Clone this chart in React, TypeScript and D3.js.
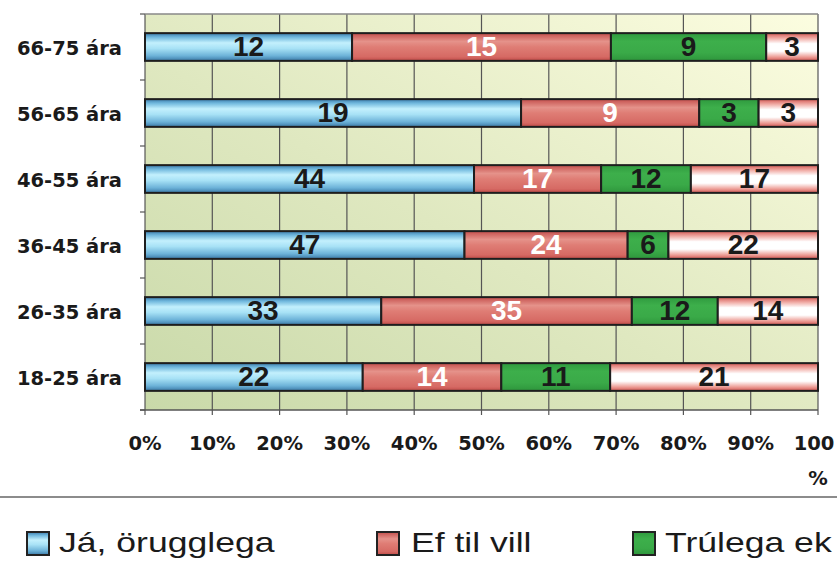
import React from "react";
import * as d3 from "d3";

const categories = ["66-75 ára", "56-65 ára", "46-55 ára", "36-45 ára", "26-35 ára", "18-25 ára"];
const seriesNames = ["Já, örugglega", "Ef til vill", "Trúlega ek", "Örugglega ekki"];
const jaValues = [12, 19, 44, 47, 33, 22];
const efValues = [15, 9, 17, 24, 35, 14];
const trulegaValues = [9, 3, 12, 6, 12, 11];
const ekkiValues = [3, 3, 17, 22, 14, 21];
const xTicks = [0, 0.1, 0.2, 0.3, 0.4, 0.5, 0.6, 0.7, 0.8, 0.9, 1];

const W = 837, H = 585;
const plot = { left: 145, right: 818, top: 14, bottom: 410 };

const gradIds = ["gBlue", "gRed", "gGreen", "gWhite"];
const labelColors = ["#1a1a1a", "#ffffff", "#1a1a1a", "#1a1a1a"];

export default function App() {
  const x = d3.scaleLinear().domain([0, 1]).range([plot.left, plot.right]);
  const y = d3.scaleBand().domain(categories).range([plot.top, plot.bottom]).paddingInner(0.58).paddingOuter(0.29);
  const rows = categories.map((c, i) => ({
    cat: c,
    vals: [jaValues[i], efValues[i], trulegaValues[i], ekkiValues[i]],
  }));
  const bw = y.bandwidth();
  const stepY = (plot.bottom - plot.top) / categories.length;

  const legend = [
    { name: seriesNames[0], g: "gBlue", mx: 27, tx: 59 },
    { name: seriesNames[1], g: "gRed", mx: 377, tx: 411 },
    { name: seriesNames[2], g: "gGreen", mx: 633, tx: 665 },
  ];

  return (
    <svg width={W} height={H} style={{ position: "absolute", left: 0, top: 0, background: "#fff" }}>
      <defs>
        <linearGradient id="bg" x1="0" y1="1" x2="1" y2="0">
          <stop offset="0" stopColor="#c9d9a9" />
          <stop offset="0.45" stopColor="#dfe8c0" />
          <stop offset="1" stopColor="#fcfde0" />
        </linearGradient>
        <linearGradient id="gBlue" x1="0" y1="0" x2="0" y2="1">
          <stop offset="0" stopColor="#3b7cac" />
          <stop offset="0.15" stopColor="#72b9de" />
          <stop offset="0.35" stopColor="#c3f0fd" />
          <stop offset="0.55" stopColor="#a8e2f6" />
          <stop offset="0.82" stopColor="#6cb2d8" />
          <stop offset="1" stopColor="#3a78a6" />
        </linearGradient>
        <linearGradient id="gRed" x1="0" y1="0" x2="0" y2="1">
          <stop offset="0" stopColor="#c44f4c" />
          <stop offset="0.3" stopColor="#e5928a" />
          <stop offset="0.5" stopColor="#df7d75" />
          <stop offset="0.85" stopColor="#d66a64" />
          <stop offset="1" stopColor="#c04b48" />
        </linearGradient>
        <linearGradient id="gGreen" x1="0" y1="0" x2="0" y2="1">
          <stop offset="0" stopColor="#2f9a3e" />
          <stop offset="0.3" stopColor="#3daf4b" />
          <stop offset="0.7" stopColor="#3aaa48" />
          <stop offset="1" stopColor="#2e963c" />
        </linearGradient>
        <linearGradient id="gWhite" x1="0" y1="0" x2="0" y2="1">
          <stop offset="0" stopColor="#d45a55" />
          <stop offset="0.2" stopColor="#f2b2ac" />
          <stop offset="0.38" stopColor="#ffffff" />
          <stop offset="0.65" stopColor="#ffffff" />
          <stop offset="0.85" stopColor="#eea29b" />
          <stop offset="1" stopColor="#d25752" />
        </linearGradient>
      </defs>

      {/* plot background */}
      <rect x={plot.left} y={plot.top} width={plot.right - plot.left} height={plot.bottom - plot.top} fill="url(#bg)" />
      {/* grid */}
      {xTicks.map((t) => (
        <line key={"g" + t} x1={x(t)} x2={x(t)} y1={plot.top} y2={plot.bottom + 5} stroke="#555" strokeWidth={1.2} />
      ))}
      <line x1={plot.left} x2={plot.right} y1={plot.top} y2={plot.top} stroke="#888" strokeWidth={1.5} />
      <line x1={plot.left - 5} x2={plot.right} y1={plot.bottom} y2={plot.bottom} stroke="#555" strokeWidth={1.5} />
      {d3.range(categories.length + 1).map((i) => (
        <line key={"yt" + i} x1={plot.left - 5} x2={plot.left} y1={plot.top + i * stepY} y2={plot.top + i * stepY} stroke="#555" strokeWidth={1.2} />
      ))}

      {/* bars */}
      {rows.map((r) => {
        const total = d3.sum(r.vals);
        let cum = 0;
        const y0 = y(r.cat)!;
        return (
          <g key={r.cat}>
            {r.vals.map((v, j) => {
              const a = cum / total;
              cum += v;
              const b = cum / total;
              const x0 = x(a), x1 = x(b);
              return (
                <g key={j}>
                  <rect x={x0} y={y0} width={x1 - x0} height={bw} fill={`url(#${gradIds[j]})`} stroke="#1e1e1e" strokeWidth={2} />
                  <text
                    x={(x0 + x1) / 2}
                    y={y0 + bw / 2 - 1}
                    textAnchor="middle"
                    dominantBaseline="central"
                    fontFamily="Liberation Sans, Arial, sans-serif"
                    fontWeight="bold"
                    fontSize={28}
                    fill={labelColors[j]}
                  >
                    {v}
                  </text>
                </g>
              );
            })}
          </g>
        );
      })}

      {/* y labels */}
      {categories.map((c) => (
        <text
          key={"yl" + c}
          x={122}
          y={y(c)! + bw / 2 + 1.5}
          textAnchor="end"
          dominantBaseline="central"
          fontFamily="DejaVu Sans, Verdana, sans-serif"
          fontWeight="bold"
          fontSize={19.5}
          fill="#1a1a1a"
        >
          {c}
        </text>
      ))}

      {/* x labels */}
      {xTicks.map((t) => {
        const s = t === 1 ? "100" : d3.format(".0%")(t);
        return (
          <text
            key={"xl" + t}
            x={t === 1 ? x(t) - 4 : x(t)}
            y={443}
            textAnchor="middle"
            dominantBaseline="central"
            fontFamily="DejaVu Sans, Verdana, sans-serif"
            fontWeight="bold"
            fontSize={19.5}
            fill="#1a1a1a"
          >
            {s}
          </text>
        );
      })}
      <text x={x(1)} y={478} textAnchor="middle" dominantBaseline="central" fontFamily="DejaVu Sans, Verdana, sans-serif" fontWeight="bold" fontSize={19.5} fill="#1a1a1a">
        %
      </text>

      {/* separator */}
      <line x1={0} x2={W} y1={497} y2={497} stroke="#666" strokeWidth={1.5} />

      {/* legend */}
      {legend.map((l) => (
        <g key={l.name}>
          <rect x={l.mx} y={532} width={22} height={23} fill={`url(#${l.g})`} stroke="#222" strokeWidth={2} />
          <text
            transform={`translate(${l.tx},552) scale(1.27,1)`}
            fontFamily="Liberation Sans, Arial, sans-serif"
            fontSize={28}
            fill="#1a1a1a"
          >
            {l.name}
          </text>
        </g>
      ))}
    </svg>
  );
}
